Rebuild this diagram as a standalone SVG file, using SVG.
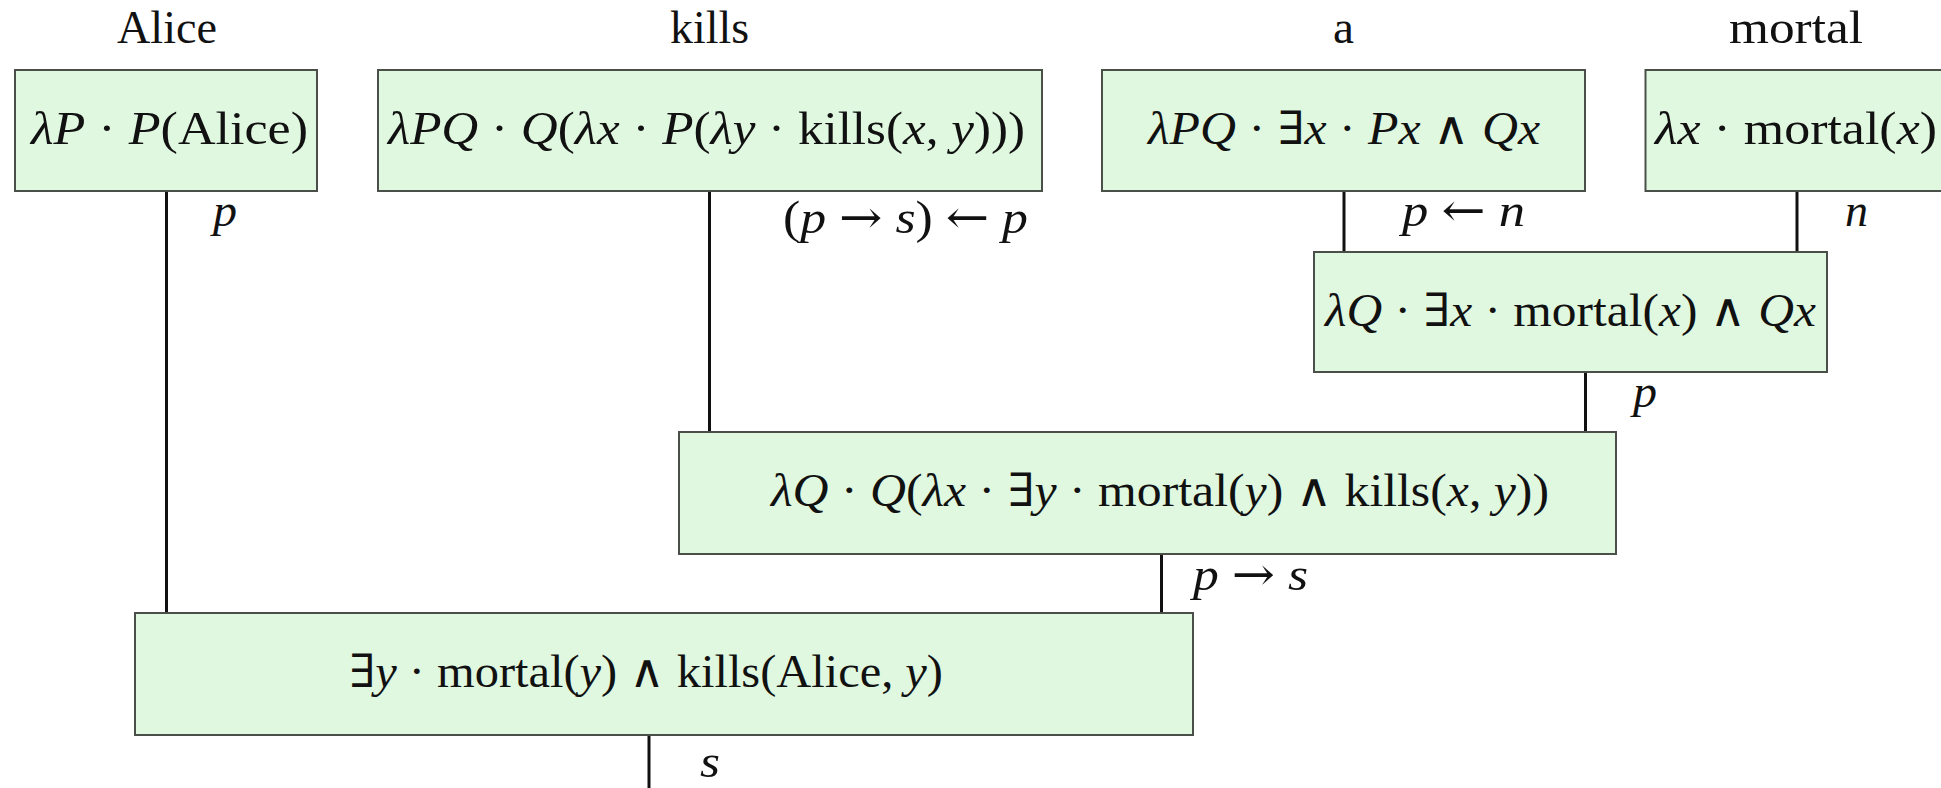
<svg xmlns="http://www.w3.org/2000/svg" width="1941" height="788" viewBox="0 0 1941 788">
<style>
  .box { fill: #e0f8e0; stroke: #4a4f4a; stroke-width: 2; }
  .edge { stroke: #111; stroke-width: 3; fill: none; }
  .t { font-family: "Liberation Serif", "DejaVu Serif", serif; font-size: 46px; fill: #111; }
  .w { font-family: "Liberation Serif", "DejaVu Serif", serif; font-size: 47px; fill: #111; }
  .i { font-style: italic; }
  .ar { font-family: "DejaVu Serif", serif; font-style: normal; }
</style>
<rect width="1941" height="788" fill="#ffffff"/>
<g id="connectors">
  <line class="edge" x1="166.5" y1="191" x2="166.5" y2="613"/>
  <line class="edge" x1="709.5" y1="191" x2="709.5" y2="432"/>
  <line class="edge" x1="1344" y1="191" x2="1344" y2="252"/>
  <line class="edge" x1="1797" y1="191" x2="1797" y2="252"/>
  <line class="edge" x1="1585.5" y1="372" x2="1585.5" y2="432"/>
  <line class="edge" x1="1161.5" y1="554" x2="1161.5" y2="613"/>
  <line class="edge" x1="649" y1="735" x2="649" y2="788"/>
  <text class="t i" x="213" y="226" textLength="24" lengthAdjust="spacingAndGlyphs">p</text>
  <text class="t" x="783" y="233" textLength="245" lengthAdjust="spacingAndGlyphs">(<tspan class="i">p</tspan> <tspan class="ar">→</tspan> <tspan class="i">s</tspan>) <tspan class="ar">←</tspan> <tspan class="i">p</tspan></text>
  <text class="t" x="1402" y="226" textLength="123" lengthAdjust="spacingAndGlyphs"><tspan class="i">p</tspan> <tspan class="ar">←</tspan> <tspan class="i">n</tspan></text>
  <text class="t i" x="1845" y="226" textLength="23" lengthAdjust="spacingAndGlyphs">n</text>
  <text class="t i" x="1633" y="407" textLength="24" lengthAdjust="spacingAndGlyphs">p</text>
  <text class="t" x="1193" y="590" textLength="115" lengthAdjust="spacingAndGlyphs"><tspan class="i">p</tspan> <tspan class="ar">→</tspan> <tspan class="i">s</tspan></text>
  <text class="t i" x="700" y="777" textLength="20" lengthAdjust="spacingAndGlyphs">s</text>
</g>
<g id="word-alice"><text class="w" x="117" y="43" textLength="100" lengthAdjust="spacingAndGlyphs">Alice</text></g>
<g id="word-kills"><text class="w" x="670" y="43" textLength="79" lengthAdjust="spacingAndGlyphs">kills</text></g>
<g id="word-a"><text class="w" x="1333" y="43" textLength="21" lengthAdjust="spacingAndGlyphs">a</text></g>
<g id="word-mortal"><text class="w" x="1729" y="43" textLength="134" lengthAdjust="spacingAndGlyphs">mortal</text></g>
<g id="n-alice">
  <rect class="box" x="15" y="70" width="302" height="121"/>
  <text class="t" x="31" y="144" textLength="277" lengthAdjust="spacingAndGlyphs"><tspan class="i">λP</tspan> · <tspan class="i">P</tspan>(Alice)</text>
</g>
<g id="n-kills">
  <rect class="box" x="378" y="70" width="664" height="121"/>
  <text class="t" x="388" y="144" textLength="637" lengthAdjust="spacingAndGlyphs"><tspan class="i">λPQ</tspan> · <tspan class="i">Q</tspan>(<tspan class="i">λx</tspan> · <tspan class="i">P</tspan>(<tspan class="i">λy</tspan> · kills(<tspan class="i">x</tspan>, <tspan class="i">y</tspan>)))</text>
</g>
<g id="n-a">
  <rect class="box" x="1102" y="70" width="483" height="121"/>
  <text class="t" x="1148" y="144" textLength="392" lengthAdjust="spacingAndGlyphs"><tspan class="i">λPQ</tspan> · ∃<tspan class="i">x</tspan> · <tspan class="i">Px</tspan> ∧ <tspan class="i">Qx</tspan></text>
</g>
<g id="n-mortal">
  <rect class="box" x="1645.5" y="70" width="302" height="121"/>
  <text class="t" x="1655" y="144" textLength="282" lengthAdjust="spacingAndGlyphs"><tspan class="i">λx</tspan> · mortal(<tspan class="i">x</tspan>)</text>
</g>
<g id="n-a-mortal">
  <rect class="box" x="1314" y="252" width="513" height="120"/>
  <text class="t" x="1325" y="326" textLength="491" lengthAdjust="spacingAndGlyphs"><tspan class="i">λQ</tspan> · ∃<tspan class="i">x</tspan> · mortal(<tspan class="i">x</tspan>) ∧ <tspan class="i">Qx</tspan></text>
</g>
<g id="n-kills-a-mortal">
  <rect class="box" x="679" y="432" width="937" height="122"/>
  <text class="t" x="771" y="506" textLength="778" lengthAdjust="spacingAndGlyphs"><tspan class="i">λQ</tspan> · <tspan class="i">Q</tspan>(<tspan class="i">λx</tspan> · ∃<tspan class="i">y</tspan> · mortal(<tspan class="i">y</tspan>) ∧ kills(<tspan class="i">x</tspan>, <tspan class="i">y</tspan>))</text>
</g>
<g id="n-sentence">
  <rect class="box" x="135" y="613" width="1058" height="122"/>
  <text class="t" x="349" y="687" textLength="594" lengthAdjust="spacingAndGlyphs">∃<tspan class="i">y</tspan> · mortal(<tspan class="i">y</tspan>) ∧ kills(Alice, <tspan class="i">y</tspan>)</text>
</g>
</svg>
